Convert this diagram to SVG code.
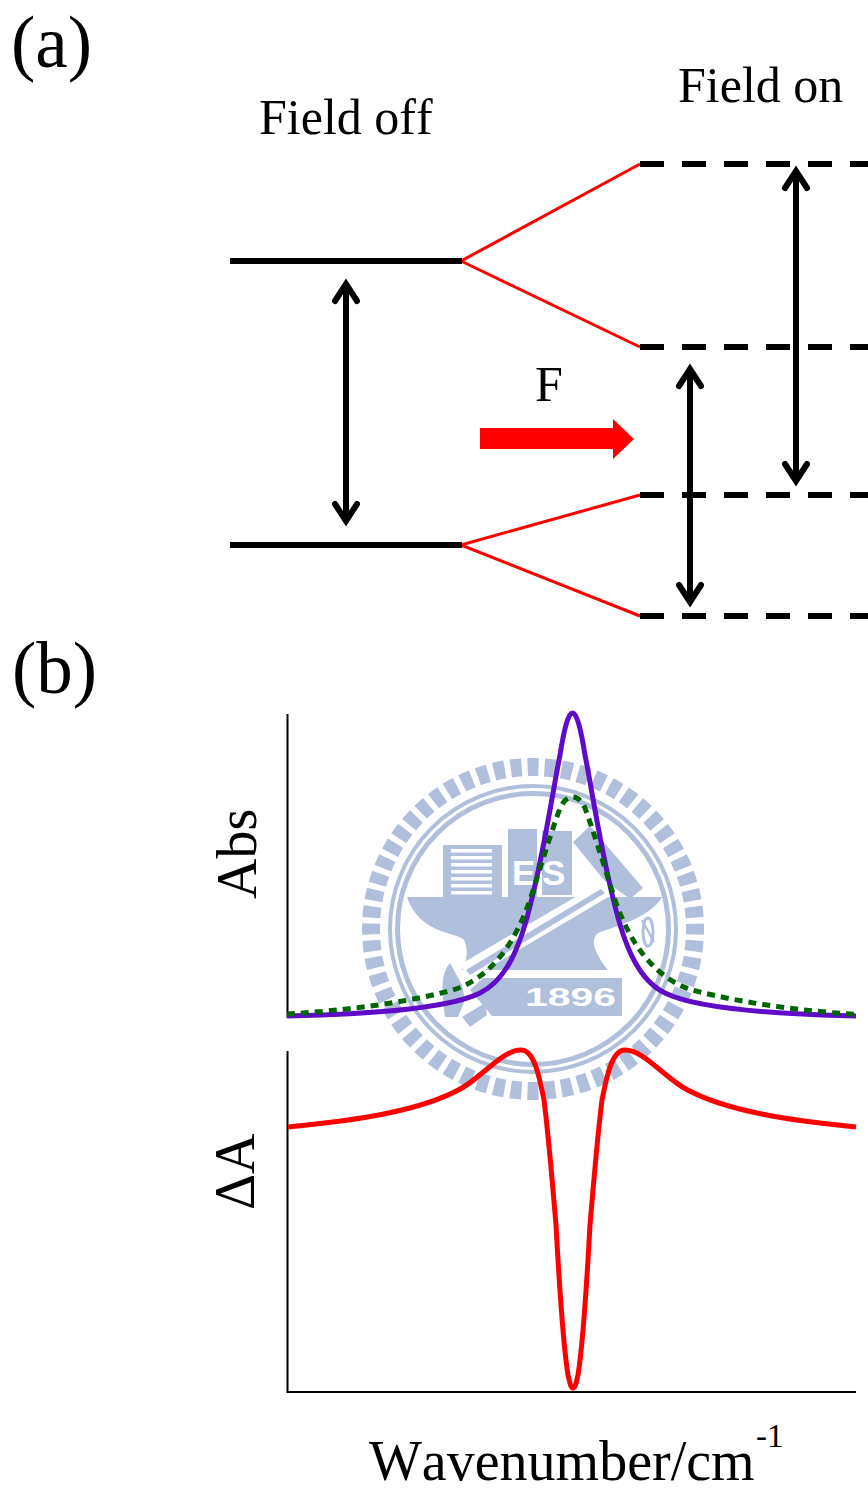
<svg xmlns="http://www.w3.org/2000/svg" width="868" height="1492" viewBox="0 0 868 1492">
<style>
text{font-family:"Liberation Serif","Times New Roman",serif;fill:#000;font-kerning:none}
.lvl{stroke:#000;stroke-width:6;fill:none}
.dash{stroke:#000;stroke-width:6;stroke-dasharray:24 18;fill:none}
.split{stroke:#f00;stroke-width:3;fill:none}
.dbl{stroke:#000;stroke-width:6;fill:none;stroke-linecap:round;stroke-linejoin:miter}
.shaft{stroke:#000;stroke-width:6;fill:none}
.axis{stroke:#000;stroke-width:2;fill:none}
.curve{fill:none;stroke-width:5;stroke-linejoin:round}
.wm{fill:#afbfdc}
.wmt{font-family:"Liberation Sans",Arial,sans-serif;font-weight:700;fill:#fff}
</style>
<rect width="868" height="1492" fill="#fff"/>
<g id="watermark">
<circle cx="533" cy="929" r="162" fill="none" stroke="#afbfdc" stroke-width="18" stroke-dasharray="11 5.96" stroke-dashoffset="5.5"/>
<circle cx="533" cy="929" r="143" fill="none" stroke="#afbfdc" stroke-width="4"/>
<circle cx="533" cy="929" r="135.5" fill="none" stroke="#afbfdc" stroke-width="5"/>
<rect class="wm" x="443" y="845" width="59" height="52"/>
<g fill="#fff"><rect x="451" y="849" width="41" height="3.5"/><rect x="451" y="856" width="41" height="3.5"/><rect x="451" y="863" width="41" height="3.5"/><rect x="451" y="870" width="41" height="3.5"/><rect x="451" y="877" width="41" height="3.5"/><rect x="451" y="884" width="41" height="3.5"/><rect x="451" y="891" width="41" height="3.5"/><rect x="502" y="848" width="5" height="49"/></g>
<rect class="wm" x="508" y="829" width="29" height="68"/>
<rect class="wm" x="542" y="831" width="30" height="64"/>
<text class="wmt" x="512" y="885" font-size="35">E</text>
<text class="wmt" x="542" y="885" font-size="35">S</text>
<polygon class="wm" points="573,842 590,826 643,888 630,899 604,880"/>
<path class="wm" d="M407,897 H662 C652,915 622,925 600,932 C590,937 592,950 608,970 H462 C470,955 466,945 464,940 C458,932 420,935 407,897Z"/>
<polygon points="461,964 601,882 610,896 468,980" fill="#fff"/>
<polygon class="wm" points="466,970 601,889 605,893 470,975"/>
<path class="wm" d="M450,963 C440,975 442,990 445,1017 H458 L465,1000 L462,985Z"/>
<polygon class="wm" points="483,978 622,978 622,1016 492,1016 470,990"/>
<polygon class="wm" points="462,1017 485,1003 487,1015 470,1027"/>
<text class="wmt" x="525" y="1006" font-size="26" textLength="91" lengthAdjust="spacingAndGlyphs">1896</text>
<ellipse cx="648" cy="932" rx="5" ry="14" fill="none" stroke="#afbfdc" stroke-width="3"/>
<line x1="642" y1="920" x2="654" y2="942" stroke="#afbfdc" stroke-width="2.5"/>
</g>
<g id="connectors">
<path class="split" d="M461,261 L640,164"/>
<path class="split" d="M461,261 L640,347"/>
<path class="split" d="M461,545 L640,495"/>
<path class="split" d="M461,545 L640,616"/>
<path class="shaft" d="M346,284 V521"/>
<path class="dbl" d="M335,301 L346,284 L357,301 M335,504 L346,521 L357,504"/>
<path class="shaft" d="M796,171 V481"/>
<path class="dbl" d="M785,188 L796,171 L807,188 M785,464 L796,481 L807,464"/>
<path class="shaft" d="M690,369 V602"/>
<path class="dbl" d="M679,386 L690,369 L701,386 M679,585 L690,602 L701,585"/>
</g>
<g id="level-off-upper"><path class="lvl" d="M230,261 H462"/></g>
<g id="level-off-lower"><path class="lvl" d="M230,545 H462"/></g>
<g id="level-on-1"><path class="dash" d="M640,164 H868"/></g>
<g id="level-on-2"><path class="dash" d="M640,347 H868"/></g>
<g id="level-on-3"><path class="dash" d="M640,495 H868"/></g>
<g id="level-on-4"><path class="dash" d="M640,616 H868"/></g>
<g id="field-arrow"><polygon points="480,428 613,428 613,419 634,439 613,459 613,449 480,449" fill="#f00"/></g>
<g id="labels">
<text x="11" y="67" font-size="73">(a)</text>
<text x="12" y="693" font-size="73">(b)</text>
<text x="259" y="134" font-size="50">Field off</text>
<text x="678" y="102" font-size="50">Field on</text>
<text x="535" y="401" font-size="50">F</text>
<text transform="translate(256,899) rotate(-90)" font-size="56">Abs</text>
<text transform="translate(254,1210) rotate(-90)" font-size="56">ΔA</text>
<text x="369" y="1479.5" font-size="56">Wavenumber/cm</text>
<text x="756" y="1447" font-size="33">-1</text>
</g>
<g id="plots">
<path class="axis" d="M287.5,714 V1018"/>
<path class="axis" d="M287.5,1051 V1392 H856"/>
<path class="curve" stroke="#5f0bc8" d="M287,1016 C380,1014 450,1008 480,993 C505,981 520,950 532,898 C545,845 553,790 560,755 C564,730 568,713 572.5,713 C577,713 581,730 585,755 C592,790 600,845 613,898 C625,950 640,981 665,993 C695,1008 765,1014 856,1016"/>
<path class="curve" stroke="#006400" stroke-dasharray="8 6" d="M287,1014 C340,1011 400,1004 453,990 C490,978 515,945 531,897 C542,862 552,830 560,808 C564,800 568,797 573,797 C577,797 581,800 585,808 C593,830 603,862 614,897 C630,945 655,978 692,990 C745,1004 805,1011 856,1014.5"/>
<path class="curve" stroke="#f00" d="M288,1127 C350,1121 420,1112 462,1088 C485,1074 503,1050 521,1050 C534,1050 539,1075 544,1100 C549,1140 553,1190 556,1225 C559,1280 564,1350 568,1375 C570,1384 571,1388 573,1388 C575,1388 576,1384 578,1375 C582,1350 587,1280 590,1225 C593,1190 597,1140 602,1100 C607,1075 612,1050 625,1050 C643,1050 661,1074 684,1088 C726,1112 795,1121 856,1127"/>
</g>
</svg>
